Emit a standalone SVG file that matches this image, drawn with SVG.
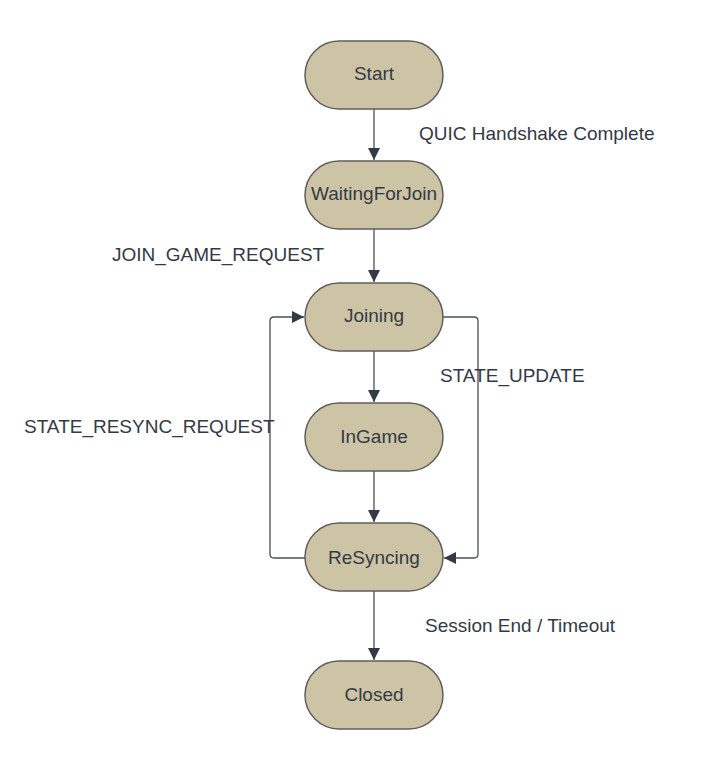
<svg xmlns="http://www.w3.org/2000/svg" width="713" height="768" viewBox="0 0 713 768">
<style>
.node rect{fill:#cdc4a5;stroke:#5e5e5e;stroke-width:1.5}
.node text{font-family:"Liberation Sans",Arial,sans-serif;font-size:19px;fill:#333a45;text-anchor:middle;dominant-baseline:central}
.lbl{font-family:"Liberation Sans",Arial,sans-serif;font-size:19px;fill:#333a45}
.edge{fill:none;stroke:#4a5059;stroke-width:1.3}
</style>
<defs>
<marker id="ah" viewBox="0 0 12 12" refX="12" refY="6" markerWidth="12" markerHeight="12" markerUnits="userSpaceOnUse" orient="auto">
<path d="M0,0 L12,6 L0,12 z" fill="#333a45"/>
</marker>
</defs>
<rect width="713" height="768" fill="#ffffff"/>
<g id="connectors">
<path class="edge" d="M374,109 V160" marker-end="url(#ah)"/>
<path class="edge" d="M374,229 V282" marker-end="url(#ah)"/>
<path class="edge" d="M374,351 V402" marker-end="url(#ah)"/>
<path class="edge" d="M374,471 V522" marker-end="url(#ah)"/>
<path class="edge" d="M374,591 V660" marker-end="url(#ah)"/>
<path class="edge" d="M443,317 H474 Q478,317 478,321 V554 Q478,558 474,558 H444" marker-end="url(#ah)"/>
<path class="edge" d="M305,558 H274 Q270,558 270,554 V321 Q270,317 274,317 H304" marker-end="url(#ah)"/>
<text class="lbl" x="419" y="140">QUIC Handshake Complete</text>
<text class="lbl" x="112" y="261">JOIN_GAME_REQUEST</text>
<text class="lbl" x="440" y="382">STATE_UPDATE</text>
<text class="lbl" x="24" y="433">STATE_RESYNC_REQUEST</text>
<text class="lbl" x="425" y="632">Session End / Timeout</text>
</g>
<g id="start" class="node"><rect x="305" y="41" width="138" height="68" rx="34"/><text x="374" y="73">Start</text></g>
<g id="waitingforjoin" class="node"><rect x="305" y="161" width="138" height="68" rx="34"/><text x="374" y="193">WaitingForJoin</text></g>
<g id="joining" class="node"><rect x="305" y="283" width="138" height="68" rx="34"/><text x="374" y="315">Joining</text></g>
<g id="ingame" class="node"><rect x="305" y="403" width="138" height="68" rx="34"/><text x="374" y="436">InGame</text></g>
<g id="resyncing" class="node"><rect x="305" y="523" width="138" height="68" rx="34"/><text x="374" y="557">ReSyncing</text></g>
<g id="closed" class="node"><rect x="305" y="661" width="138" height="68" rx="34"/><text x="374" y="694">Closed</text></g>
</svg>
